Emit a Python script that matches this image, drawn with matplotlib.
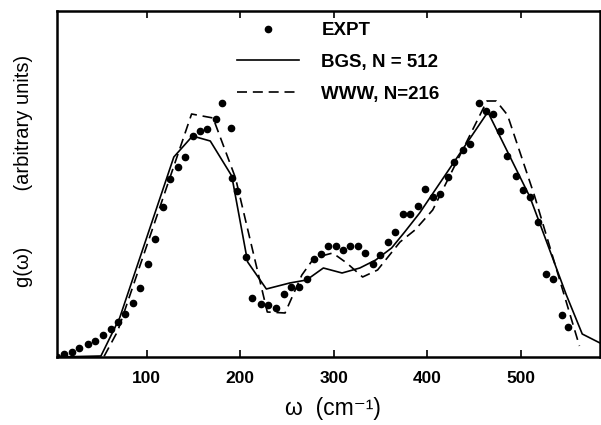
import matplotlib
matplotlib.use("Agg")
import matplotlib.pyplot as plt

# experimental points (omega in cm^-1, g in arbitrary units)
expt_w = [4, 12, 20, 28, 37, 45, 53, 62, 69, 77, 85, 93, 101, 109, 117, 125, 133,
          141, 149, 157, 165, 174, 181, 190, 191, 197, 206, 213, 222, 230, 238,
          247, 254, 263, 271, 279, 286, 294, 302, 310, 318, 326, 334, 342, 350,
          358, 366, 374, 382, 390, 398, 406, 414, 422, 429, 438, 446, 455, 463,
          470, 478, 486, 495, 503, 510, 519, 527, 535, 544, 551]
expt_g = [0, 3, 5, 9, 13, 16, 22, 28, 35, 43, 54, 69, 93, 118, 150, 178, 190,
          200, 221, 226, 228, 238, 254, 229, 179, 166, 100, 59, 53, 52, 49,
          63, 70, 70, 78, 98, 103, 111, 111, 107, 111, 111, 104, 93, 102,
          115, 125, 143, 143, 151, 168, 160, 163, 180, 195, 207, 213, 254, 246,
          243, 226, 201, 181, 167, 160, 135, 83, 78, 42, 30]

# BGS model, N = 512
bgs_w = [4, 51, 71, 129, 149, 168, 191, 208, 228, 253, 271, 289, 309, 328, 345,
         362, 376, 392, 465, 510, 522, 549, 566, 585]
bgs_g = [0, 1, 39, 200, 221, 216, 181, 95, 68, 74, 77, 89, 84, 89, 97,
         109, 125, 144, 245, 160, 130, 62, 23, 14]

# WWW model, N = 216
www_w = [4, 54, 69, 148, 171, 195, 229, 248, 266, 279, 299, 314, 331, 347, 371,
         387, 406, 464, 474, 486, 515, 563]
www_g = [0, 0, 26, 243, 239, 179, 45, 44, 82, 99, 104, 94, 80, 87, 115,
         127, 147, 256, 256, 242, 161, 11]

xticks = [100, 200, 300, 400, 500]

fam = ["Liberation Sans", "DejaVu Sans"]
plt.rcParams["font.family"] = fam

fig = plt.figure(figsize=(6.01, 4.25), dpi=100)
ax = fig.add_axes([57 / 601, 1 - 357 / 425, 543 / 601, 346 / 425])

ax.plot(expt_w, expt_g, "o", color="black", ms=4.5, ls="none", label="EXPT")
ax.plot(bgs_w, bgs_g, "-", color="black", lw=1.2, label="BGS, N = 512")
ax.plot(www_w, www_g, "--", color="black", lw=1.2, dashes=(6, 3.5),
        label="WWW, N=216")

ax.set_xlim(4, 585)
ax.set_ylim(0, 346)

ax.set_xticks(xticks)
ax.set_yticks([])
ax.tick_params(axis="x", direction="in", length=5, width=1.2, top=True,
               labelsize=12.5, pad=10)
for lab in ax.get_xticklabels():
    lab.set_fontweight("bold")
for sp in ax.spines.values():
    sp.set_linewidth(1.8)

leg = ax.legend(loc="upper left", bbox_to_anchor=((237 - 57) / 543, (357 - 22) / 346),
                frameon=False, numpoints=1, handlelength=3.3, handletextpad=1.2,
                labelspacing=0.78, borderpad=0, borderaxespad=0,
                prop={"family": fam, "weight": "bold", "size": 13.5})

fig.text(333 / 601, 1 - 409 / 425, "ω  (cm⁻¹)", ha="center", va="center",
         fontsize=16.5)
fig.text(24 / 601, 1 - 171 / 425, "g(ω)          (arbitrary units)", ha="center",
         va="center", rotation=90, fontsize=14.5)

fig.savefig("out.png", dpi=100)
